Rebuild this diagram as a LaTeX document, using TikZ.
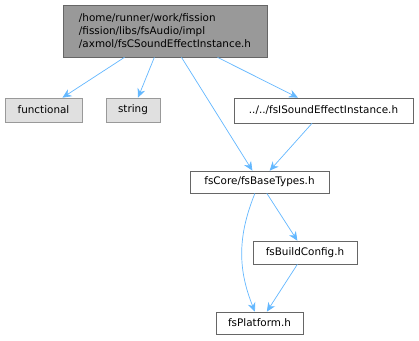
\documentclass[tikz,border=0pt]{standalone}
\usepackage{fontspec}
\setmainfont{DejaVu Sans}
\usetikzlibrary{arrows.meta}
\definecolor{edgeblue}{HTML}{63B8FF}
\definecolor{boxgray}{HTML}{999999}
\definecolor{sysgray}{HTML}{E0E0E0}
\definecolor{linegray}{HTML}{666666}

\begin{document}
\begin{tikzpicture}[x=1pt, y=-1pt,
    font=\fontsize{10.4}{12.6}\selectfont,
    file/.style={draw=linegray, fill=white, line width=0.7pt, inner sep=0pt, minimum height=22pt},
    sys/.style={draw=boxgray, fill=sysgray, line width=0.7pt, inner sep=0pt, minimum height=24pt},
    dep/.style={draw=edgeblue, line width=0.7pt, -{Stealth[length=9pt, width=8pt]}}]
  % canvas
  \useasboundingbox[fill=white] (0,0) rectangle (419,340);

  % nodes
  \node[file, fill=boxgray, minimum width=204pt, minimum height=52pt, align=left] (top) at (165,31)
    {/home/runner/work/fission\\/fission/libs/fsAudio/impl\\/axmol/fsCSoundEffectInstance.h};
  \node[sys, minimum width=77pt] (functional) at (43.5,110) {functional};
  \node[sys, minimum width=54pt] (string) at (133,110) {string};
  \node[file, minimum width=179pt, minimum height=25pt] (isound) at (323.5,110.5) {../../fsISoundEffectInstance.h};
  \node[file, minimum width=139pt] (basetypes) at (259.5,182) {fsCore/fsBaseTypes.h};
  \node[file, minimum width=104pt, minimum height=23pt] (buildcfg) at (305,252.5) {fsBuildConfig.h};
  \node[file, minimum width=87pt] (platform) at (259.5,323) {fsPlatform.h};

  % includes
  \draw[dep] (top) -- (functional);
  \draw[dep] (top) -- (string);
  \draw[dep] (top) -- (basetypes);
  \draw[dep] (top) -- (isound);
  \draw[dep] (isound) -- (basetypes);
  \draw[dep] (basetypes) -- (buildcfg);
  \draw[dep] (basetypes) to[bend right=22] (platform);
  \draw[dep] (buildcfg) -- (platform);
\end{tikzpicture}
\end{document}
